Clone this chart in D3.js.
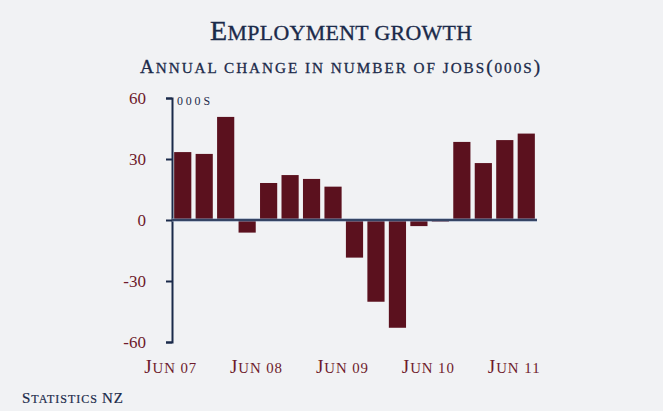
<!DOCTYPE html>
<html>
<head>
<meta charset="utf-8">
<script src="https://cdn.jsdelivr.net/npm/d3@7"></script>
<style>
  html, body { margin: 0; padding: 0; background: #f1f2f4; }
  svg text { font-family: "Liberation Serif", "DejaVu Serif", serif; }
</style>
</head>
<body>
<div id="chart"></div>
<script>
// ----- Employment growth bar chart -----

const quarters = ["Jun 07", "Sep 07", "Dec 07", "Mar 08", "Jun 08", "Sep 08", "Dec 08", "Mar 09",
                  "Jun 09", "Sep 09", "Dec 09", "Mar 10", "Jun 10", "Sep 10", "Dec 10", "Mar 11", "Jun 11"];
const jobsChange = [33.4, 32.5, 50.7, -6.2, 18.2, 22.1, 20.2, 16.4,
                    -18.5, -40.2, -53, -3, -0.8, 38.4, 28, 39.3, 42.5];
const yTicks = [-60, -30, 0, 30, 60];
const xLabels = ["Jun 07", "Jun 08", "Jun 09", "Jun 10", "Jun 11"];

const width = 663;
const height = 411;
const navy = "#1b2a4a";
const maroon = "#5b111e";
const labelRed = "#6e1a2b";

const svg = d3.select("#chart")
    .append("svg")
    .attr("width", width)
    .attr("height", height);

svg.append("rect")
    .attr("width", width)
    .attr("height", height)
    .attr("fill", "#f1f2f4");

// fake small caps: capitals full size, everything else uppercased and smaller
function smallCaps(sel, str, size, ratio) {
    sel.text(null);
    str.split("").forEach(ch => {
        const big = ch !== ch.toLowerCase() || ch === "(" || ch === ")";
        sel.append("tspan")
            .style("font-size", (big ? size : size * ratio) + "px")
            .text(ch.toUpperCase());
    });
}

const x = d3.scaleBand()
    .domain(quarters)
    .range([172, 537])
    .paddingInner(0.2)
    .paddingOuter(0.1);

const y = d3.scaleLinear().domain([-60, 60]).range([342, 98]);

// titles
svg.append("text")
    .attr("x", 341)
    .attr("y", 40)
    .attr("text-anchor", "middle")
    .attr("textLength", 262)
    .attr("lengthAdjust", "spacing")
    .style("fill", navy)
    .style("stroke", navy)
    .style("stroke-width", 0.35)
    .call(smallCaps, "Employment growth", 28, 0.78);

svg.append("text")
    .attr("x", 340)
    .attr("y", 73)
    .attr("text-anchor", "middle")
    .attr("textLength", 400)
    .attr("lengthAdjust", "spacing")
    .style("fill", navy)
    .style("stroke", navy)
    .style("stroke-width", 0.3)
    .call(smallCaps, "Annual change in number of jobs(000s)", 19, 0.8);

// bars
svg.selectAll(".bar")
    .data(jobsChange)
    .enter().append("rect")
    .attr("class", "bar")
    .attr("x", (d, i) => x(quarters[i]))
    .attr("y", d => y(Math.max(0, d)))
    .attr("width", x.bandwidth())
    .attr("height", d => Math.abs(y(d) - y(0)))
    .attr("fill", maroon);

// y axis
const yAxis = svg.append("g")
    .attr("transform", `translate(172,0)`)
    .call(d3.axisLeft(y).tickValues(yTicks).tickSize(6).tickPadding(20).tickFormat(d => String(d)));

yAxis.select(".domain").attr("stroke", navy).attr("stroke-width", 2);
yAxis.selectAll(".tick line").attr("stroke", navy).attr("stroke-width", 2);
yAxis.selectAll(".tick text")
    .style("font-size", "17px")
    .style("font-family", "Liberation Serif")
    .attr("fill", labelRed);

svg.append("text")
    .attr("x", 177)
    .attr("y", 105)
    .attr("textLength", 33)
    .attr("lengthAdjust", "spacing")
    .style("fill", navy)
    .call(smallCaps, "000s", 14, 0.85);

// zero line
svg.append("line")
    .attr("x1", 172).attr("x2", 537)
    .attr("y1", y(0)).attr("y2", y(0))
    .attr("stroke", "#8595b3")
    .attr("stroke-width", 3);

svg.append("line")
    .attr("x1", 172).attr("x2", 537)
    .attr("y1", y(0)).attr("y2", y(0))
    .attr("stroke", navy)
    .attr("stroke-width", 1.6);

// x labels
svg.selectAll(".xlabel")
    .data(xLabels)
    .enter().append("text")
    .attr("class", "xlabel")
    .attr("x", d => x(d) - 4)
    .attr("y", 373)
    .attr("text-anchor", "middle")
    .attr("textLength", 52)
    .attr("lengthAdjust", "spacing")
    .style("fill", labelRed)
    .each(function (d) { smallCaps(d3.select(this), d, 19, 0.78); });

// source
svg.append("text")
    .attr("x", 22)
    .attr("y", 403)
    .attr("textLength", 101)
    .attr("lengthAdjust", "spacing")
    .style("fill", navy)
    .style("stroke", navy)
    .style("stroke-width", 0.2)
    .call(smallCaps, "Statistics NZ", 15, 0.8);
</script>
</body>
</html>
